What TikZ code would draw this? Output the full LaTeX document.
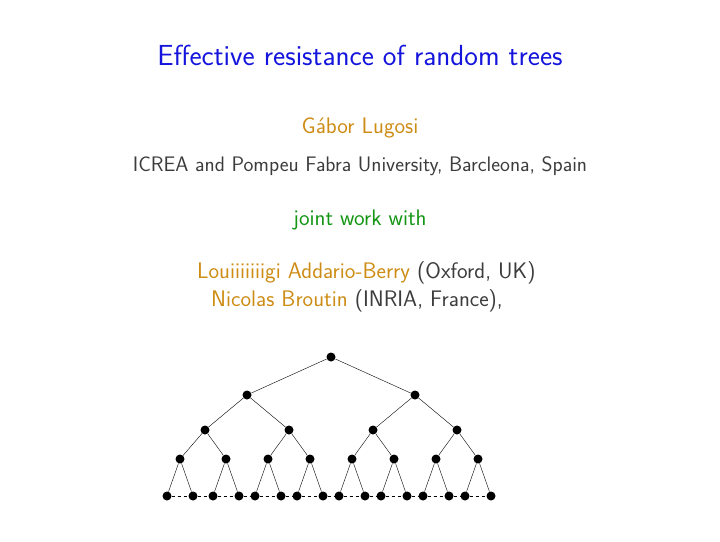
\documentclass[tikz,border=0pt]{standalone}
\usepackage{fontspec}
\setsansfont{Latin Modern Sans}
\definecolor{ttl}{RGB}{20,20,220}
\definecolor{org}{RGB}{205,140,20}
\definecolor{grn}{RGB}{20,150,20}
\definecolor{gry}{RGB}{60,60,60}
\begin{document}
\begin{tikzpicture}[x=1pt,y=-1pt,
  dot/.style={circle,fill=black,inner sep=0pt,minimum size=9pt},
  txt/.style={font=\sffamily,inner sep=0pt}]
\useasboundingbox (0,0) rectangle (720,541);
\node[txt,text=ttl,font=\sffamily\fontsize{29}{34}\selectfont] (title) at (360,55) {Effective resistance of random trees};
\node[txt,text=org,font=\sffamily\fontsize{22.5}{27}\selectfont] (auth) at (360,128) {Gábor Lugosi};
\node[txt,text=gry,font=\sffamily\fontsize{21}{25}\selectfont] (aff) at (360,166) {ICREA and Pompeu Fabra University, Barcleona, Spain};
\node[txt,text=grn,font=\sffamily\fontsize{22.5}{27}\selectfont] (jw) at (360,220) {joint work with};
\node[txt,anchor=west,text=gry,font=\sffamily\fontsize{22.5}{27}\selectfont] (l1) at (197,273) {\textcolor{org}{Louiiiiiiigi Addario-Berry} (Oxford, UK)};
\node[txt,anchor=west,text=gry,font=\sffamily\fontsize{22.5}{27}\selectfont] (l2) at (211,301) {\textcolor{org}{Nicolas Broutin} (INRIA, France),};
% tree
\node[dot] (r) at (331,357) {};
\node[dot] (a1) at (247,395) {};
\node[dot] (a2) at (415,395) {};
\draw (r)--(a1) (r)--(a2);
\foreach \i/\x in {1/205,2/289,3/373,4/457}{
  \node[dot] (b\i) at (\x,430) {};}
\draw (a1)--(b1) (a1)--(b2) (a2)--(b3) (a2)--(b4);
\foreach \i/\x in {1/180,2/226,3/268,4/310,5/352,6/394,7/436,8/478}{
  \node[dot] (c\i) at (\x,459) {};
  \node[dot] (d\i a) at (\x-13,496) {};
  \node[dot] (d\i b) at (\x+13,496) {};
  \draw (c\i)--(d\i a) (c\i)--(d\i b);}
\foreach \i/\p in {1/1,2/1,3/2,4/2,5/3,6/3,7/4,8/4}{\draw (b\p)--(c\i);}
\foreach \i in {1,...,8}{\draw[dashed] (d\i a)--(d\i b);}
\foreach \i [evaluate=\i as \j using int(\i+1)] in {1,...,7}{\draw[dashed] (d\i b)--(d\j a);}
\end{tikzpicture}
\end{document}
